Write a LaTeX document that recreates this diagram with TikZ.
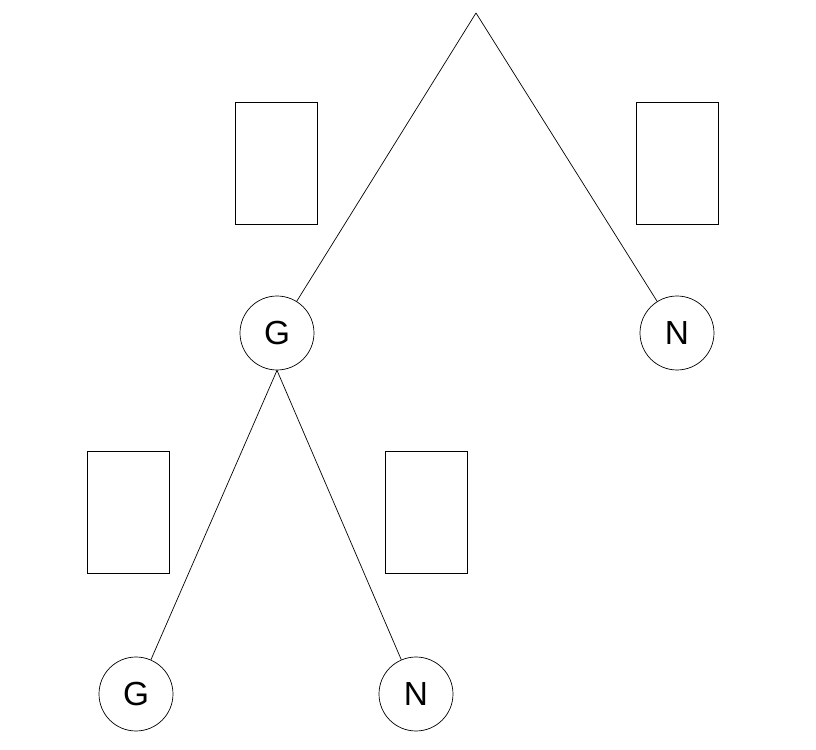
\documentclass[tikz,border=0pt]{standalone}
\usepackage{fontspec}
\setmainfont{Liberation Sans}
\begin{document}
\begin{tikzpicture}[x=0.02cm,y=-0.02cm,
  leaf/.style={draw,circle,minimum size=1.48cm,inner sep=0pt,font=\fontsize{19}{19}\selectfont},
  box/.style={draw,minimum width=1.64cm,minimum height=2.44cm,inner sep=0pt}]
\useasboundingbox (0,0) rectangle (816,750);
\coordinate (top) at (476,13);
\node[leaf] (g1) at (277,333) {G};
\node[leaf] (n1) at (677,333) {N};
\node[leaf] (g2) at (136,694) {G};
\node[leaf] (n2) at (416,694) {N};
\node[box] (b1) at (276.5,163) {};
\node[box] (b2) at (677,163) {};
\node[box] (b3) at (128,512) {};
\node[box] (b4) at (426,512) {};
\draw (top) -- (g1);
\draw (top) -- (n1);
\draw (g1.south) -- (g2);
\draw (g1.south) -- (n2);
\end{tikzpicture}
\end{document}
